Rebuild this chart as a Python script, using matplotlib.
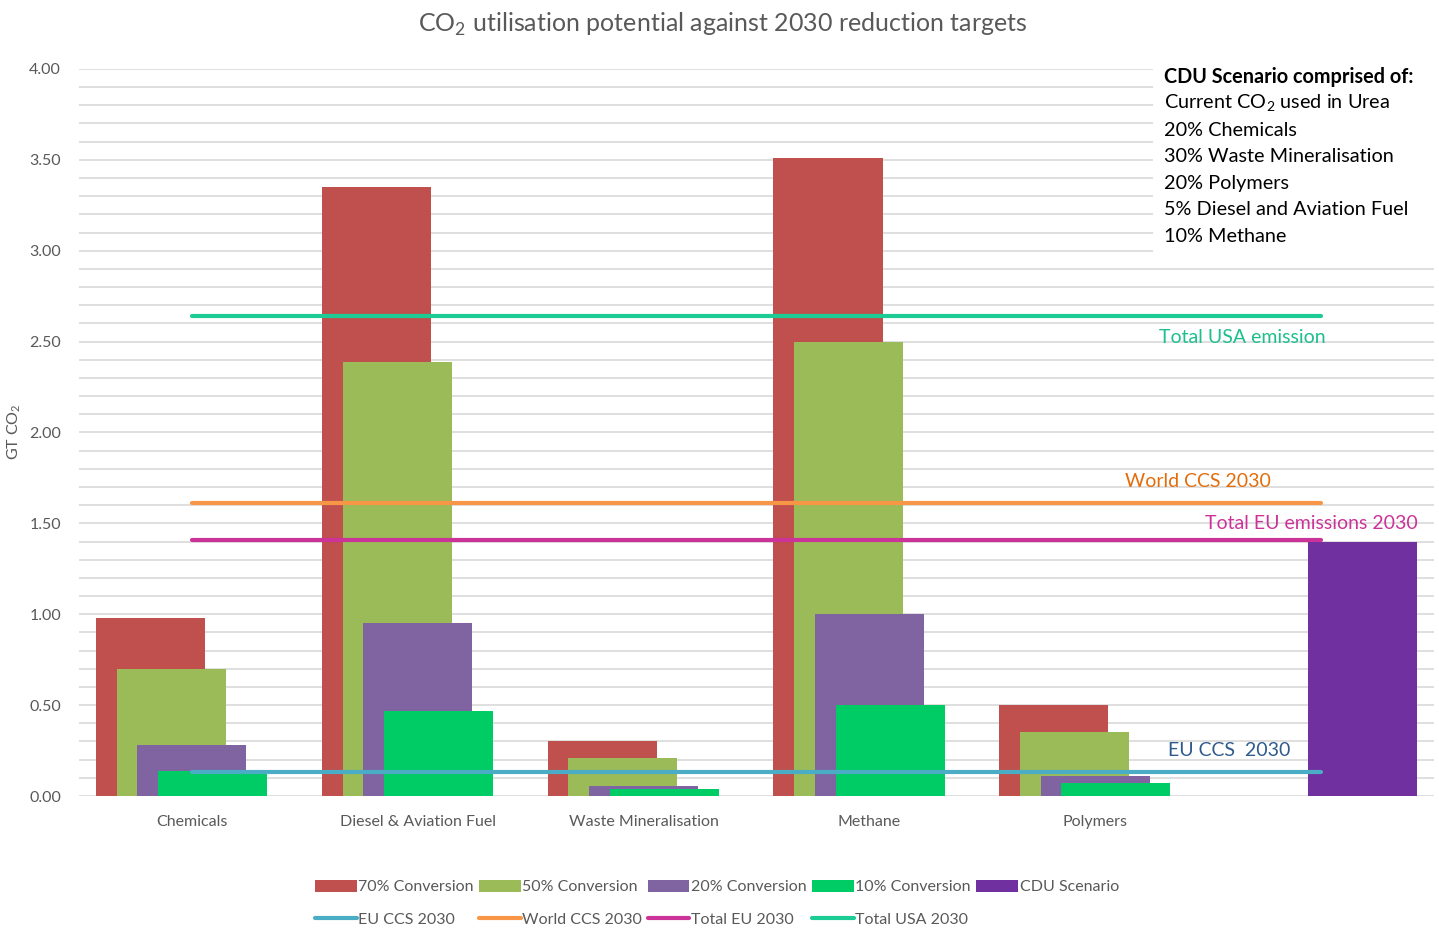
import numpy as np
import matplotlib
matplotlib.use('Agg')
import matplotlib.pyplot as plt
from matplotlib.patches import Patch, Rectangle
from matplotlib.lines import Line2D

plt.rcParams['font.family'] = ['Lato', 'DejaVu Sans']
plt.rcParams['mathtext.fontset'] = 'custom'
plt.rcParams['mathtext.rm'] = 'Lato'
plt.rcParams['mathtext.bf'] = 'Lato:bold'

# data
categories = ['Chemicals', 'Diesel & Aviation Fuel', 'Waste Mineralisation', 'Methane', 'Polymers', '']
conv70 = [0.98, 3.35, 0.30, 3.51, 0.50, 0]
conv50 = [0.70, 2.39, 0.21, 2.50, 0.35, 0]
conv20 = [0.28, 0.95, 0.055, 1.00, 0.11, 0]
conv10 = [0.14, 0.47, 0.04, 0.50, 0.07, 0]
cdu = [0, 0, 0, 0, 0, 1.40]

eu_ccs = 0.13
world_ccs = 1.61
total_eu = 1.41
total_usa = 2.64

bar_series = [
    ('70% Conversion', conv70, '#C0504D'),
    ('50% Conversion', conv50, '#9BBB59'),
    ('20% Conversion', conv20, '#8064A2'),
    ('10% Conversion', conv10, '#00CC66'),
    ('CDU Scenario', cdu, '#7030A0'),
]
line_series = [
    ('EU CCS 2030', eu_ccs, '#4BACC6'),
    ('World CCS 2030', world_ccs, '#F79646'),
    ('Total EU 2030', total_eu, '#CC3399'),
    ('Total USA 2030', total_usa, '#1DCB94'),
]

grey = '#595959'

fig = plt.figure(figsize=(14.39, 9.32), dpi=100)
ax = fig.add_axes([0.0549, 0.1459, 0.9416, 0.7801])

x = np.arange(len(categories))
width = 0.483
step = 0.0916
for i, (name, vals, col) in enumerate(bar_series):
    ax.bar(x + (i - 2) * step, vals, width, color=col, zorder=2 + i * 0.1, label=name)

# target lines run from first to last category centre
for name, val, col in line_series:
    ax.plot([x[0], x[-1]], [val, val], color=col, lw=3, solid_capstyle='round', zorder=4)

ax.set_xlim(-0.5, len(categories) - 0.5)
ax.set_ylim(0, 4.0)
ax.set_yticks(np.arange(0, 4.01, 0.5))
ax.set_yticks(np.arange(0, 4.01, 0.1), minor=True)
ax.yaxis.set_major_formatter(matplotlib.ticker.FormatStrFormatter('%.2f'))
ax.grid(axis='y', which='both', color='#D9D9D9', lw=1.2)
ax.set_axisbelow(True)
for s in ax.spines.values():
    s.set_visible(False)
ax.tick_params(axis='both', which='both', length=0, colors=grey, labelsize=11.5)
ax.tick_params(axis='y', pad=13)
ax.tick_params(axis='x', pad=14)
ax.set_xticks(x)
ax.set_xticklabels(categories)

fig.text(0.0097, 0.537, r'GT CO$_2$', rotation=90, ha='center', va='center', color=grey, fontsize=11.5)
fig.text(0.502, 0.974, r'CO$_2$ utilisation potential against 2030 reduction targets',
         ha='center', va='center', color=grey, fontsize=18)

# line labels
ax.text(4.65, 2.525, 'Total USA emission', color='#1DBF8C', fontsize=14, ha='center', va='center', zorder=5)
ax.text(4.455, 1.728, 'World CCS 2030', color='#E46C0A', fontsize=14, ha='center', va='center', zorder=5)
ax.text(4.955, 1.497, 'Total EU emissions 2030', color='#CC3399', fontsize=14, ha='center', va='center', zorder=5)
ax.text(4.592, 0.253, 'EU CCS  2030', color='#2E5A8C', fontsize=14, ha='center', va='center', zorder=5)

# scenario note with white box over the gridlines
ax.add_patch(Rectangle((4.255, 2.95), 1.3, 1.1, facecolor='white', edgecolor='none', zorder=1, clip_on=False))
note = ['Current CO$_2$ used in Urea', '20% Chemicals', '30% Waste Mineralisation',
        '20% Polymers', '5% Diesel and Aviation Fuel', '10% Methane']
ax.text(4.305, 3.956, 'CDU Scenario comprised of:', fontsize=14.3, fontweight='bold', color='black',
        ha='left', va='center', zorder=5)
for k, line in enumerate(note):
    ax.text(4.305, 3.956 - (k + 1) * 0.146, line, fontsize=14.3, color='black', ha='left', va='center', zorder=5)

# legend: one grid, bars on the first row, target lines on the second
bar_handles = [Patch(facecolor=c, edgecolor='none') for _, _, c in bar_series]
line_handles = [Line2D([0], [0], color=c, lw=3, solid_capstyle='round') for _, _, c in line_series]
handles, labels = [], []
for i in range(5):
    handles.append(bar_handles[i])
    labels.append(bar_series[i][0])
    if i < 4:
        handles.append(line_handles[i])
        labels.append(line_series[i][0])
fig.legend(handles, labels, loc='center left', bbox_to_anchor=(0.209, 0.031), ncol=5,
           frameon=False, fontsize=11.5, handlelength=2.6, handleheight=0.8,
           handletextpad=0.1, columnspacing=0.35, labelspacing=1.1, labelcolor=grey)

fig.savefig('out.png', dpi=100)
